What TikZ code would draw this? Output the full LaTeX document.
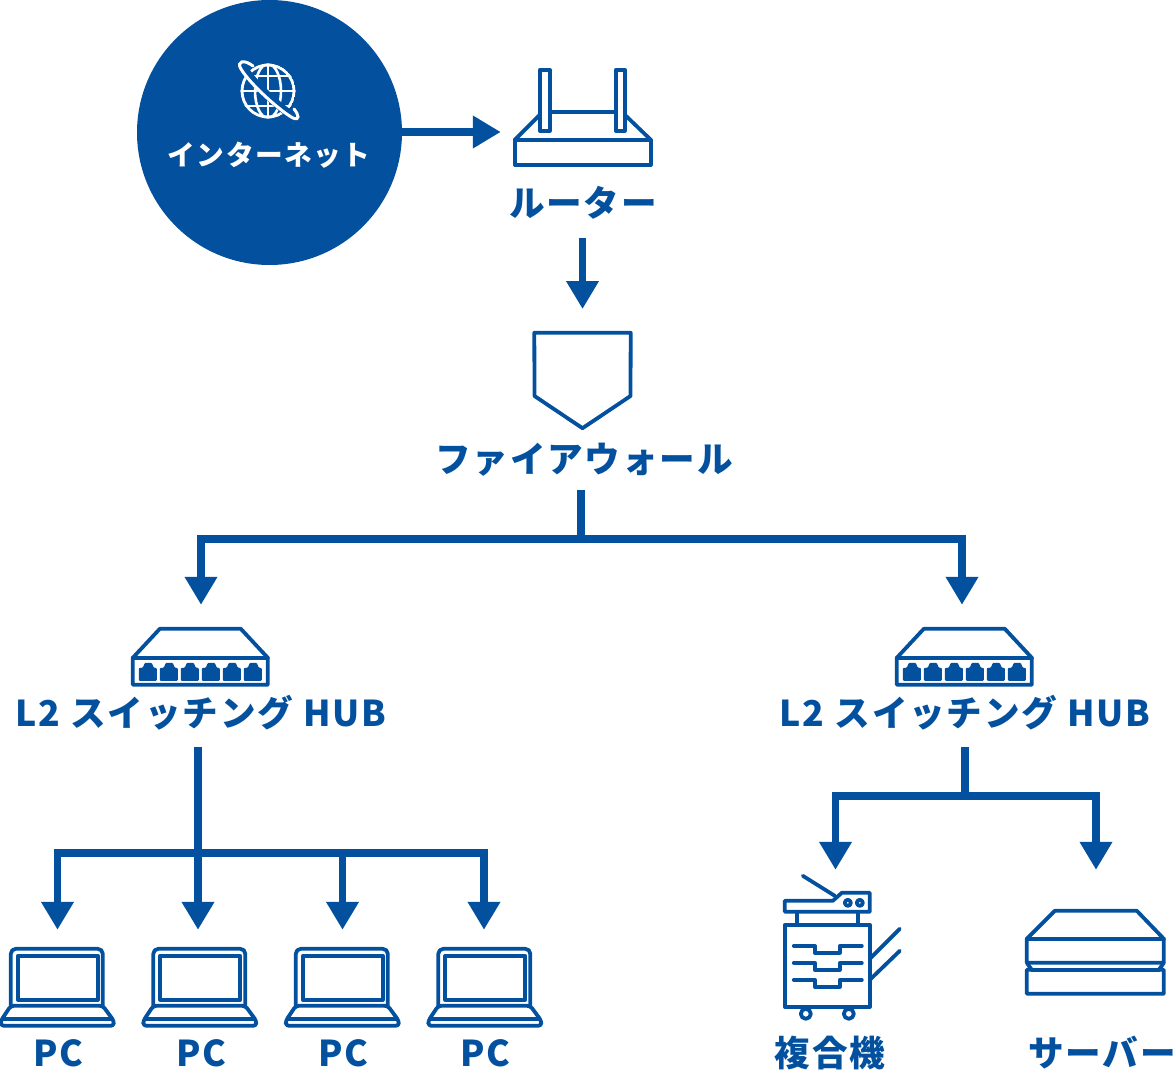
\documentclass[tikz,border=0pt]{standalone}
\usepackage{fontspec}
\usepackage{xcolor}
\usetikzlibrary{arrows.meta}
\setmainfont{Noto Sans CJK JP}
\newfontfamily\labelfont{Noto Sans CJK JP}[LetterSpace=5]
\definecolor{netblue}{HTML}{03519E}
\tikzset{
  label/.style={font=\labelfont\bfseries\fontsize{35.6}{38}\selectfont, text=netblue, align=center},
  iconbox/.style={shape=rectangle},
  iconline/.style={draw=netblue, line width=3.8pt, line join=round, line cap=round},
  link/.style={draw=netblue, line width=7.5pt},
  tiplink/.style={link, -{Triangle[width=31pt,length=28pt]}},
  pcicon/.pic={
    \path [iconline,rounded corners=5pt] (11,57) -- (11,0) -- (103,0) -- (103,57);
    \path [iconline] (18,7) rectangle (98,51);
    \path [iconline,rounded corners=3pt] (11,57) -- (103,57) -- (114,72) -- (114,77) -- (1,77) -- (1,72) -- cycle;
    \path [iconline] (3,70) -- (112,70);
  },
  hubicon/.pic={
    \path [iconline] (1,30) -- (28,1) -- (109,1) -- (136,30) -- (136,57) -- (1,57) -- cycle;
    \path [iconline] (1,30) -- (136,30);
    \foreach \i in {0,...,5}
      \path [fill=netblue,rounded corners=1pt,shift={(21*\i,0)}] (7,53) -- (7,40) -- (11,40) -- (13,35) -- (20,35) -- (22,40) -- (25,40) -- (25,53) -- cycle;
  },
  routericon/.pic={
    \path [iconline] (2,72) -- (27,47);
    \path [iconline] (112,47) -- (138,72);
    \path [iconline] (37,44) -- (103,44);
    \path [iconline] (27,2) rectangle (37,63);
    \path [iconline] (103,2) rectangle (112,63);
    \path [iconline] (2,72) rectangle (138,97);
  },
  copiericon/.pic={
    \path [iconline] (18,1) -- (50,21);
    \path [iconline] (0,26) -- (48,26) -- (57,18) -- (85,18) -- (85,37) -- (0,37) -- cycle;
    \path [iconline] (63,28) circle (3);
    \path [iconline] (75,28) circle (3);
    \path [iconline] (12,37) -- (12,50);
    \path [iconline] (73,37) -- (73,50);
    \path [iconline] (0,50) rectangle (85,132);
    \foreach \t in {71,88,105}
      \path [iconline,shift={(0,\t)}] (9,0) -- (30,0) -- (30,7) -- (55,7) -- (55,0) -- (77,0);
    \path [iconline] (85,84) -- (115,54);
    \path [iconline] (85,105) -- (115,76);
    \path [iconline] (21,139) circle (5);
    \path [iconline] (64,139) circle (5);
  },
  servericon/.pic={
    \path [iconline] (1,30) -- (29,2) -- (111,2) -- (138,30) -- (138,54) -- (1,54) -- cycle;
    \path [iconline] (1,30) -- (138,30);
    \path [iconline] (1,54) -- (6,61) -- (1,61) -- (1,85) -- (138,85) -- (138,61) -- (133,61) -- (138,54);
    \path [iconline] (6,61) -- (133,61);
  }
}
\begin{document}
\begin{tikzpicture}[x=1pt,y=-1pt,inner sep=0pt]
\useasboundingbox (0,0) rectangle (1174,1070);
\node (n0) [at={(269.5,132.5)}, shape=circle, minimum size=265pt, fill=netblue] {};
\node (n1) [at={(269,155)}, font=\labelfont\bfseries\fontsize{27.7}{30}\selectfont, text=white] {インターネット};
\node (n2) [at={(582.5,117.5)}, iconbox, minimum width=139pt, minimum height=99pt] {};
\node (n3) [at={(583,203)}, label, minimum height=70pt] {ルーター};
\node (n4) [at={(582.5,380.5)}, iconbox, minimum width=96pt, minimum height=95pt] {};
\node (n5) [at={(584,460)}, label, minimum height=60pt] {ファイアウォール};
\node (n6) [at={(201,657)}, iconbox, minimum width=138pt, minimum height=58pt] {};
\node (n7) [at={(965,657)}, iconbox, minimum width=138pt, minimum height=58pt] {};
\node (n8) [at={(201,713)}, label, minimum height=68pt] {L2 スイッチング HUB};
\node (n9) [at={(965,713)}, label, minimum height=68pt] {L2 スイッチング HUB};
\node (n10) [at={(57.5,988.5)}, iconbox, minimum width=115pt, minimum height=79pt] {};
\node (n11) [at={(200,988.5)}, iconbox, minimum width=115pt, minimum height=79pt] {};
\node (n12) [at={(342.5,988.5)}, iconbox, minimum width=115pt, minimum height=79pt] {};
\node (n13) [at={(485,988.5)}, iconbox, minimum width=115pt, minimum height=79pt] {};
\node (n14) [at={(58,1053)}, label] {PC};
\node (n15) [at={(201,1053)}, label] {PC};
\node (n16) [at={(343,1053)}, label] {PC};
\node (n17) [at={(485,1053)}, label] {PC};
\node (n18) [at={(843.5,947.5)}, iconbox, minimum width=117pt, minimum height=145pt] {};
\node (n19) [at={(1096,952.5)}, iconbox, minimum width=140pt, minimum height=87pt] {};
\node (n20) [at={(830,1053)}, label] {複合機};
\node (n21) [at={(1102,1053)}, label] {サーバー};

\pic at (n2.north west) {routericon};
\pic at (n6.north west) {hubicon};
\pic at (n7.north west) {hubicon};
\pic at (n10.north west) {pcicon};
\pic at (n11.north west) {pcicon};
\pic at (n12.north west) {pcicon};
\pic at (n13.north west) {pcicon};
\pic at (n18.north west) {copiericon};
\pic at (n19.north west) {servericon};

% firewall
\path [iconline] (n4.north west) -- (n4.north east) -- (630.5,396) -- (n4.south) -- (534.5,396) -- cycle;

% globe
\begin{scope}
\clip (268,91) circle (27.5);
\path [draw=white,line width=2.8pt] (268,91) circle (26);
\path [draw=white,line width=2.6pt] (268,91) ellipse [x radius=13, y radius=27];
\path [draw=white,line width=2.6pt] (268,60) -- (268,120);
\path [draw=white,line width=2.6pt] (240,91) -- (296,91);
\path [draw=white,line width=2.6pt] (240,76) -- (296,76);
\path [draw=white,line width=2.6pt] (240,106) -- (296,106);
\end{scope}
\path [draw=netblue,line width=8pt] (245,70) .. controls (255,85) and (280,108) .. (293,116);
\path [draw=white,line width=3pt,line cap=round] (253,66) .. controls (244,59) and (236,61) .. (241,69) .. controls (250,84) and (280,111) .. (293,118) .. controls (300,121) and (299,115) .. (294,109);

\coordinate (j0) at (581,539);
\coordinate (j1) at (198,853);
\coordinate (j2) at (965,796);

\path [tiplink,shorten >=12pt] (n0.east |- 0,132) -- (n2.west |- 0,132);
\path [tiplink] (n3.south -| n4.north) -- (n4.north |- 0,309);
\path [link] (n5.south -| j0) -- (j0);
\path [tiplink,shorten >=23pt] (j0) -| (n6.north);
\path [tiplink,shorten >=23pt] (j0) -| ([xshift=-3pt]n7.north);
\path [tiplink,shorten >=19pt] (n8.south -| j1) -- (n11.north -| j1);
\path [tiplink,shorten >=19pt] (j1) -| (n10.north);
\path [tiplink,shorten >=19pt] (j1) -| (n12.north);
\path [tiplink,shorten >=19pt] (j1) -| ([xshift=-1pt]n13.north);
\path [link] (n9.south) -- (j2);
\path [tiplink,shorten >=5pt] (j2) -| ([xshift=-8pt]n18.north);
\path [tiplink,shorten >=39pt] (j2) -| (n19.north);
\end{tikzpicture}
\end{document}
